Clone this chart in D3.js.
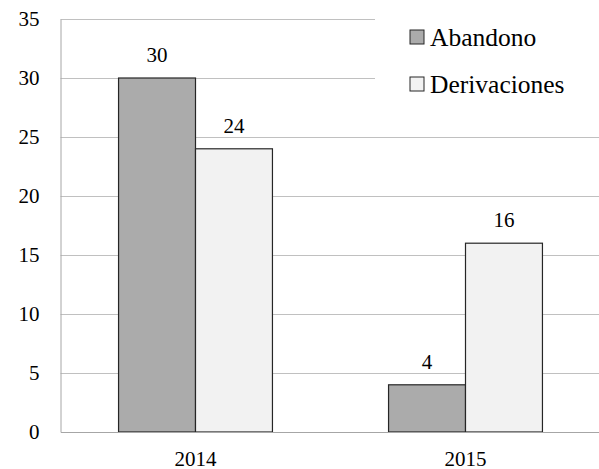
<!DOCTYPE html>
<html>
<head>
<meta charset="utf-8">
<script src="https://cdn.jsdelivr.net/npm/d3@7"></script>
</head>
<body style="margin:0; background:#fff">
<script>
const years = ["2014", "2015"];
const series = ["Abandono", "Derivaciones"];
const abandono = [30, 4];
const derivaciones = [24, 16];
const yTicks = [0, 5, 10, 15, 20, 25, 30, 35];

const colors = { Abandono: "#ababab", Derivaciones: "#f2f2f2" };

const W = 599, H = 469;
const margin = { top: 19, right: -1.5, bottom: 37, left: 60.5 };
const innerW = W - margin.left - margin.right;
const innerH = H - margin.top - margin.bottom;

const rows = years.map((y, i) => ({ year: y, Abandono: abandono[i], Derivaciones: derivaciones[i] }));

const svg = d3.select("body").append("svg")
  .attr("width", W)
  .attr("height", H);

const g = svg.append("g")
  .attr("transform", "translate(" + margin.left + "," + margin.top + ")");

const x = d3.scaleBand()
  .domain(years)
  .range([0, innerW])
  .paddingInner(0.43)
  .paddingOuter(0.215);

const xSub = d3.scaleBand()
  .domain(series)
  .range([0, x.bandwidth()]);

const y = d3.scaleLinear()
  .domain([0, 35])
  .range([innerH, 0]);

// gridlines
g.append("g")
  .selectAll("line")
  .data(yTicks.filter(d => d > 0))
  .enter().append("line")
  .attr("x1", 0)
  .attr("x2", innerW)
  .attr("y1", d => Math.round(y(d)) + 0.5)
  .attr("y2", d => Math.round(y(d)) + 0.5)
  .attr("stroke", "#c0c0c0")
  .attr("stroke-width", 1);

// bars
const groups = g.append("g")
  .selectAll("g")
  .data(rows)
  .enter().append("g")
  .attr("transform", d => "translate(" + x(d.year) + ",0)");

groups.selectAll("rect")
  .data(d => series.map(k => ({ key: k, value: d[k] })))
  .enter().append("rect")
  .attr("x", d => xSub(d.key))
  .attr("y", d => y(d.value))
  .attr("width", xSub.bandwidth())
  .attr("height", d => innerH - y(d.value))
  .attr("fill", d => colors[d.key])
  .attr("stroke", "#262626")
  .attr("stroke-width", 1.2);

// axis lines only, labels drawn as plain text below
const yAxis = g.append("g")
  .call(d3.axisLeft(y).tickValues(yTicks).tickSize(0).tickFormat(""));
yAxis.select(".domain").attr("stroke", "#a6a6a6");

const xAxis = g.append("g")
  .attr("transform", "translate(0," + innerH + ")")
  .call(d3.axisBottom(x).tickSize(0).tickFormat(""));
xAxis.select(".domain").attr("stroke", "#a6a6a6");

// all texts on one top-level layer
const labels = svg.append("g");

labels.selectAll("text.ytick")
  .data(yTicks)
  .enter().append("text")
  .attr("class", "ytick")
  .attr("x", margin.left - 21)
  .attr("y", d => margin.top + y(d))
  .attr("dy", "0.34em")
  .attr("text-anchor", "end")
  .style("font-family", "'Liberation Serif'")
  .attr("font-size", 21)
  .text(d => d);

labels.selectAll("text.xtick")
  .data(years)
  .enter().append("text")
  .attr("class", "xtick")
  .attr("x", d => margin.left + x(d) + x.bandwidth() / 2)
  .attr("y", margin.top + innerH + 34)
  .attr("text-anchor", "middle")
  .style("font-family", "'Liberation Serif'")
  .attr("font-size", 21)
  .text(d => d);

rows.forEach(r => {
  series.forEach(k => {
    labels.append("text")
      .attr("x", margin.left + x(r.year) + xSub(k) + xSub.bandwidth() / 2)
      .attr("y", margin.top + y(r[k]) - 16)
      .attr("text-anchor", "middle")
      .style("font-family", "'Liberation Serif'")
      .attr("font-size", 21)
      .text(r[k]);
  });
});

// legend
const legend = svg.append("g");
legend.append("rect")
  .attr("x", 375)
  .attr("y", 8)
  .attr("width", 230)
  .attr("height", 100)
  .attr("fill", "#fff");

legend.selectAll("rect.key")
  .data(series)
  .enter().append("rect")
  .attr("class", "key")
  .attr("x", 410)
  .attr("y", (d, i) => 30 + i * 47)
  .attr("width", 14)
  .attr("height", 14)
  .attr("fill", d => colors[d])
  .attr("stroke", "#262626")
  .attr("stroke-width", 1);

legend.selectAll("text")
  .data(series)
  .enter().append("text")
  .attr("x", 430)
  .attr("y", (d, i) => 46 + i * 47)
  .style("font-family", "'Liberation Serif'")
  .attr("font-size", 25.5)
  .text(d => d);
</script>
</body>
</html>
